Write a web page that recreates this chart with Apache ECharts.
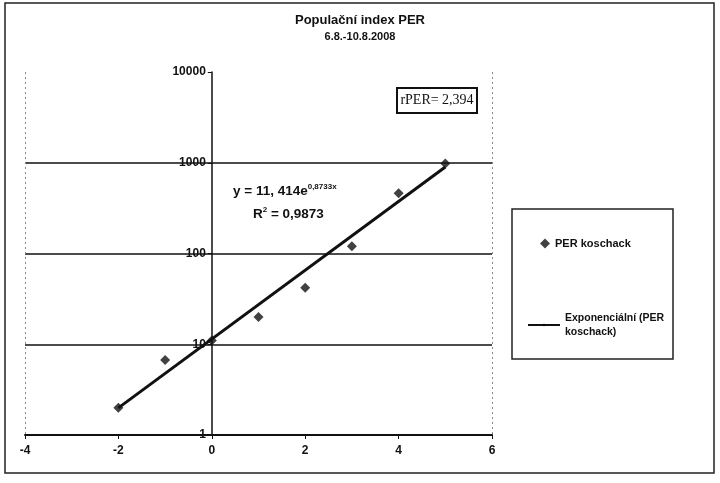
<!DOCTYPE html>
<html>
<head>
<meta charset="utf-8">
<script src="https://cdn.jsdelivr.net/npm/echarts@6/dist/echarts.min.js"></script>
<style>
  html, body { margin: 0; padding: 0; background: #fff; }
  #chart { width: 720px; height: 483px; }
</style>
</head>
<body>
<div id="chart"></div>
<script>
// data
var xValues = [-2, -1, 0, 1, 2, 3, 4, 5];
var perValues = [2.0, 6.7, 11, 20, 42, 120, 460, 980];
// exponential trend line end points (straight on a log axis)
var trendX = [-2, 5];
var trendY = [1.99, 899];
var xTicks = [-4, -2, 0, 2, 4, 6];
var yTicks = [1, 10, 100, 1000, 10000];

var scatterData = [];
for (var i = 0; i < xValues.length; i++) {
    scatterData.push([xValues[i], perValues[i]]);
}
var trendData = [];
for (var j = 0; j < trendX.length; j++) {
    trendData.push([trendX[j], trendY[j]]);
}

var gridLeft = 25, gridRight = 228;
var xMin = xTicks[0], xMax = xTicks[xTicks.length - 1];
// y axis crosses at x = 0
var yAxisShift = (0 - xMin) / (xMax - xMin) * (720 - gridLeft - gridRight);

var font = 'Liberation Sans, Arial, sans-serif';
var myChart = echarts.init(document.getElementById('chart'));
var option = {
    backgroundColor: '#fff',
    animation: false,
    title: {
        text: 'Populační index PER',
        subtext: '6.8.-10.8.2008',
        left: 355,
        textAlign: 'center',
        top: 9,
        itemGap: 4,
        textStyle: { fontFamily: font, fontSize: 13, fontWeight: 'bold', color: '#111' },
        subtextStyle: { fontFamily: font, fontSize: 11, fontWeight: 'bold', color: '#111' }
    },
    grid: {
        left: gridLeft,
        right: gridRight,
        top: 72,
        bottom: 48,
        containLabel: false,
        outerBoundsMode: 'none'
    },
    legend: [
        {
            left: 535,
            top: 233,
            itemWidth: 10,
            itemHeight: 10,
            data: [{ name: 'PER koschack', icon: 'diamond' }],
            textStyle: { fontFamily: font, fontSize: 11, fontWeight: 'bold', color: '#111' }
        },
        {
            left: 522,
            top: 306,
            itemWidth: 32,
            itemHeight: 3,
            data: ['Exponenciální (PER koschack)'],
            formatter: function () { return 'Exponenciální (PER\nkoschack)'; },
            textStyle: { fontFamily: font, fontSize: 10.5, fontWeight: 'bold', color: '#111', lineHeight: 14 }
        }
    ],
    xAxis: {
        type: 'value',
        min: xMin,
        max: xMax,
        interval: 2,
        axisLine: { onZero: false, lineStyle: { color: '#111', width: 2 } },
        axisTick: { show: true, length: 4, lineStyle: { color: '#111' } },
        axisLabel: { fontFamily: font, fontSize: 12, fontWeight: 'bold', color: '#111', margin: 10 },
        splitLine: {
            show: true,
            lineStyle: {
                type: [2, 3],
                color: ['#888', 'rgba(0,0,0,0)', 'rgba(0,0,0,0)', 'rgba(0,0,0,0)', 'rgba(0,0,0,0)', '#888']
            }
        }
    },
    yAxis: {
        type: 'log',
        logBase: 10,
        min: yTicks[0],
        max: yTicks[yTicks.length - 1],
        offset: -yAxisShift,
        axisLine: { show: true, onZero: false, lineStyle: { color: '#111', width: 1.5 } },
        axisTick: { show: true, length: 4, lineStyle: { color: '#111' } },
        axisLabel: {
            fontFamily: font, fontSize: 12, fontWeight: 'bold', color: '#111', margin: 6,
            formatter: function (v) { return String(v); }
        },
        splitLine: {
            show: true,
            lineStyle: {
                width: 1.5,
                color: ['#111', '#111', '#111', '#111', 'rgba(0,0,0,0)']
            }
        }
    },
    graphic: [
        {
            type: 'rect',
            shape: { x: 5, y: 3, width: 709, height: 470 },
            style: { fill: 'none', stroke: '#222', lineWidth: 1.5 },
            silent: true
        },
        {
            type: 'rect',
            shape: { x: 512, y: 209, width: 161, height: 150 },
            style: { fill: 'none', stroke: '#222', lineWidth: 1.5 },
            silent: true
        },
        {
            type: 'rect',
            shape: { x: 397, y: 88, width: 80, height: 25 },
            style: { fill: '#fff', stroke: '#111', lineWidth: 2 },
            z: 10
        },
        {
            type: 'text',
            x: 437,
            y: 100,
            z: 11,
            style: {
                text: 'rPER= 2,394',
                fontFamily: 'Liberation Serif, Times New Roman, serif',
                fontSize: 14,
                fill: '#111',
                align: 'center',
                verticalAlign: 'middle'
            }
        },
        {
            type: 'text',
            x: 233,
            y: 183,
            z: 11,
            style: {
                text: '{n|y = 11, 414e}{s|0,8733x}',
                rich: {
                    n: { fontFamily: font, fontSize: 13.5, fontWeight: 'bold', fill: '#111', verticalAlign: 'bottom' },
                    s: { fontFamily: font, fontSize: 8, fontWeight: 'bold', fill: '#111', verticalAlign: 'top', padding: [0, 0, 7, 0] }
                }
            }
        },
        {
            type: 'text',
            x: 253,
            y: 206,
            z: 11,
            style: {
                text: '{n|R}{s|2}{n| = 0,9873}',
                rich: {
                    n: { fontFamily: font, fontSize: 13.5, fontWeight: 'bold', fill: '#111', verticalAlign: 'bottom' },
                    s: { fontFamily: font, fontSize: 8, fontWeight: 'bold', fill: '#111', verticalAlign: 'top', padding: [0, 0, 7, 0] }
                }
            }
        }
    ],
    series: [
        {
            name: 'Exponenciální (PER koschack)',
            type: 'line',
            symbol: 'none',
            data: trendData,
            lineStyle: { color: '#111', width: 3 },
            itemStyle: { color: '#111' },
            z: 3
        },
        {
            name: 'PER koschack',
            type: 'scatter',
            symbol: 'diamond',
            symbolSize: 10,
            data: scatterData,
            itemStyle: { color: '#111' },
            z: 4
        }
    ]
};

myChart.setOption(option);
</script>
</body>
</html>
